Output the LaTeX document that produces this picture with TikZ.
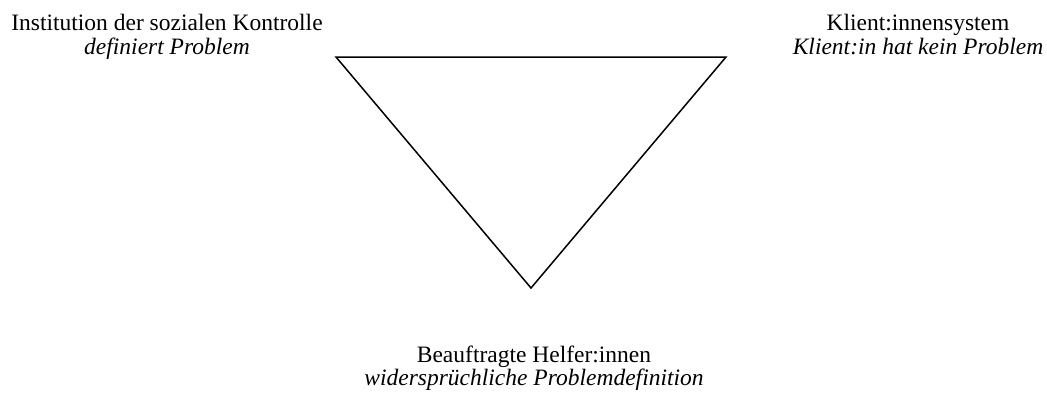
\documentclass[tikz,border=0pt]{standalone}
\usepackage{fontspec}
\setmainfont{Liberation Serif}
\begin{document}
\begin{tikzpicture}[x=1pt,y=-1pt]
\tikzset{role/.style={anchor=base,inner sep=0pt,font=\fontsize{23.5}{24}\selectfont},
         view/.style={role,font=\fontsize{23.5}{24}\selectfont\itshape},
         edge/.style={draw,line width=1.5pt,line join=miter}}
\useasboundingbox (0,0) rectangle (1047,392);

% the three corners of the triangle
\coordinate (ctl) at (336,57);
\coordinate (ccl) at (726,57);
\coordinate (chf) at (531,288);
\draw[edge] (ctl) -- (ccl) -- (chf) -- cycle;

% labels at the corners
\node[role] (inst)    at (167,30) {Institution der sozialen Kontrolle};
\node[view] (instsub) at (167,54) {definiert Problem};
\node[role] (kli)     at (918,30) {Klient:innensystem};
\node[view] (klisub)  at (918,54) {Klient:in hat kein Problem};
\node[role] (hlf)     at (534,362) {Beauftragte Helfer:innen};
\node[view] (hlfsub)  at (534,385) {widersprüchliche Problemdefinition};
\end{tikzpicture}
\end{document}
